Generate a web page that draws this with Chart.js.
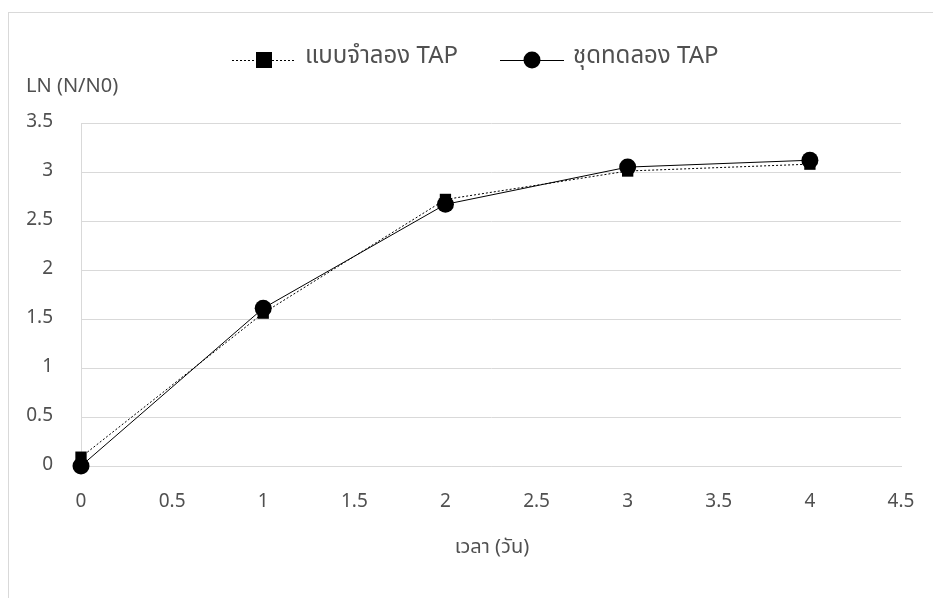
<!DOCTYPE html>
<html>
<head>
<meta charset="utf-8">
<script src="https://cdn.jsdelivr.net/npm/chart.js@4.4.1/dist/chart.umd.min.js"></script>
<style>
  html, body { margin: 0; padding: 0; background: #fff; }
  #wrap { width: 933px; height: 598px; position: relative; }
</style>
</head>
<body>
<div id="wrap"><canvas id="c" width="933" height="598"></canvas></div>
<script>
// Time in days
const days = [0, 1, 2, 3, 4];
// ln(N/N0) from the TAP model
const modelValues = [0.09, 1.56, 2.72, 3.01, 3.08];
// ln(N/N0) measured in the TAP experiment
const experimentValues = [0.0, 1.61, 2.67, 3.05, 3.12];
const seriesNames = ['แบบจำลอง TAP', 'ชุดทดลอง TAP'];
const yAxisTitle = 'LN (N/N0)';
const xAxisTitle = 'เวลา (วัน)';

const FONT = '"Noto Sans Thai", "Noto Sans", "Liberation Sans", sans-serif';
const TEXT = '#505050';

// Frame, axis titles and a line+marker legend drawn on the canvas
const decorations = {
  id: 'decorations',
  beforeDraw(chart) {
    const ctx = chart.ctx;
    ctx.save();
    ctx.strokeStyle = '#d9d9d9';
    ctx.lineWidth = 1;
    ctx.strokeRect(8.5, 12.5, 940, 600);
    ctx.restore();
  },
  afterDraw(chart) {
    const ctx = chart.ctx;
    ctx.save();
    ctx.fillStyle = TEXT;
    ctx.font = '20px ' + FONT;
    ctx.textBaseline = 'middle';
    ctx.textAlign = 'left';
    ctx.fillText(yAxisTitle, 26, 88);
    ctx.textAlign = 'center';
    ctx.fillText(xAxisTitle, 492, 549);

    // legend
    const entries = [
      { ds: chart.data.datasets[0], x: 232 },
      { ds: chart.data.datasets[1], x: 500 }
    ];
    const ly = 60;
    entries.forEach(e => {
      const ds = e.ds;
      ctx.save();
      ctx.strokeStyle = ds.borderColor;
      ctx.lineWidth = ds.borderWidth;
      ctx.setLineDash(ds.borderDash || []);
      ctx.beginPath();
      ctx.moveTo(e.x, ly + 0.5);
      ctx.lineTo(e.x + 64, ly + 0.5);
      ctx.stroke();
      ctx.restore();
      ctx.fillStyle = '#000';
      ctx.beginPath();
      if (ds.pointStyle === 'rect') {
        ctx.fillRect(e.x + 32 - 8, ly - 8, 16, 16);
      } else {
        ctx.arc(e.x + 32, ly, 8.5, 0, Math.PI * 2);
        ctx.fill();
      }
      ctx.fillStyle = TEXT;
      ctx.font = '24px ' + FONT;
      ctx.textAlign = 'left';
      ctx.textBaseline = 'middle';
      ctx.fillText(ds.label, e.x + 73, ly - 2);
    });
    ctx.restore();
  }
};

new Chart(document.getElementById('c'), {
  type: 'line',
  data: {
    datasets: [
      {
        label: seriesNames[0],
        data: days.map((d, i) => ({ x: d, y: modelValues[i] })),
        borderColor: '#000',
        backgroundColor: '#000',
        borderWidth: 1,
        borderDash: [2, 2],
        pointStyle: 'rect',
        pointRadius: 8,
        pointBorderWidth: 0,
        clip: false
      },
      {
        label: seriesNames[1],
        data: days.map((d, i) => ({ x: d, y: experimentValues[i] })),
        borderColor: '#000',
        backgroundColor: '#000',
        borderWidth: 1,
        pointStyle: 'circle',
        pointRadius: 8.5,
        pointBorderWidth: 0,
        clip: false
      }
    ]
  },
  options: {
    responsive: false,
    animation: false,
    layout: { padding: { left: 8, right: 32, top: 123, bottom: 0 } },
    plugins: { legend: { display: false }, tooltip: { enabled: false } },
    scales: {
      x: {
        type: 'linear',
        min: 0,
        max: 4.5,
        afterFit(scale) {
          scale.height = 132;
          scale.paddingLeft = 0;
          scale.paddingRight = 0;
        },
        ticks: {
          stepSize: 0.5,
          color: TEXT,
          font: { family: FONT, size: 19 },
          padding: 26,
          maxRotation: 0,
          callback: v => String(v)
        },
        grid: { display: false, drawTicks: false },
        border: { display: true, color: '#d9d9d9' }
      },
      y: {
        min: 0,
        max: 3.5,
        afterFit(scale) {
          scale.width = 73;
          scale.paddingTop = 0;
          scale.paddingBottom = 0;
        },
        ticks: {
          stepSize: 0.5,
          color: TEXT,
          font: { family: FONT, size: 19 },
          padding: 28,
          callback: v => String(v)
        },
        grid: { color: '#d9d9d9', drawTicks: false },
        border: { display: true, color: '#d9d9d9' }
      }
    }
  },
  plugins: [decorations]
});
</script>
</body>
</html>
